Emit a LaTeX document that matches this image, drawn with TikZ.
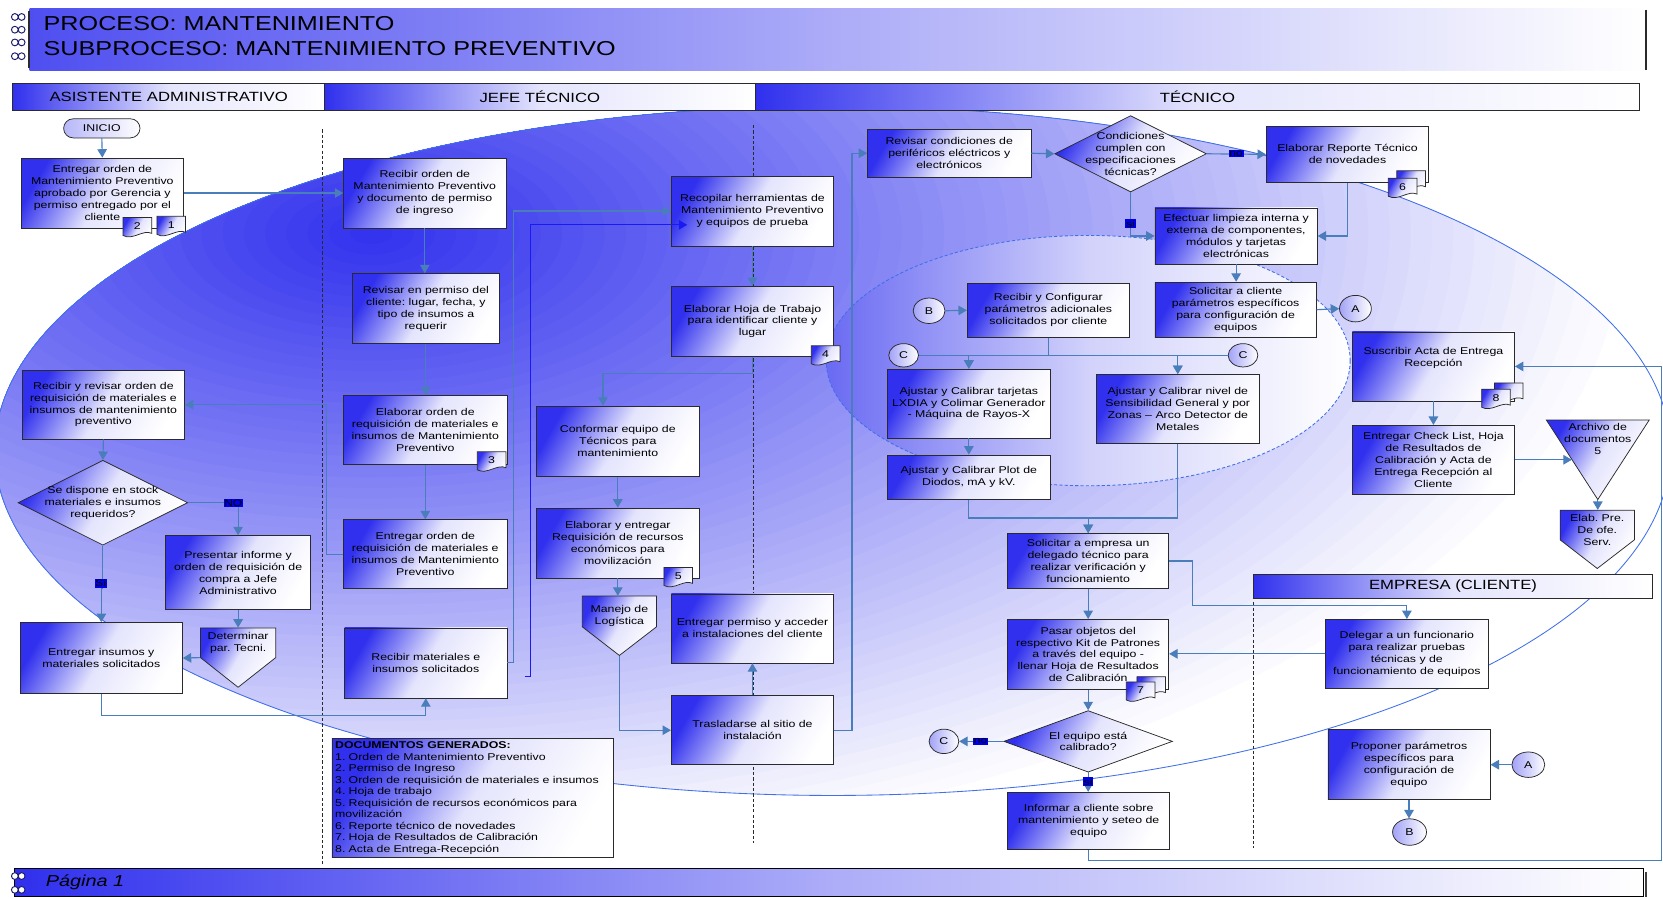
\documentclass[tikz,border=0pt]{standalone}
\usepackage{fontspec}
\setmainfont{Liberation Sans}[FakeStretch=1.25]
\usetikzlibrary{arrows.meta,shapes.geometric,calc}

\definecolor{bxblue}{HTML}{3030EE}
\definecolor{bxmid}{HTML}{E4E4FD}
\definecolor{lnk}{HTML}{4A7EBB}
\definecolor{elln}{HTML}{3F6FEA}
\definecolor{lblblue}{HTML}{0000E6}
\definecolor{edge}{HTML}{2A2A2A}
\definecolor{ringc}{HTML}{1C1C6E}
\definecolor{wire}{HTML}{1A1AF5}

\newcommand\bodyfont{\fontsize{9.3}{11.2}\selectfont\frenchspacing}

\tikzset{
  every node/.style={font=\bodyfont},
  proc/.style={rectangle, draw=edge, line width=0.7pt, align=center, inner sep=1pt,
    top color=bxblue, bottom color=white, middle color=bxmid, shading angle=60},
  term/.style={rectangle, rounded corners=9pt, draw=edge, line width=0.7pt, inner sep=1pt,
    left color=bxblue!35!white, right color=white},
  ghost/.style={rectangle, draw=none, inner sep=0pt},
  txt/.style={align=center, inner sep=0pt},
  decis/.style={diamond, draw=edge, line width=0.7pt, inner sep=0pt,
    top color=bxblue, bottom color=white, middle color=bxmid, shading angle=60},
  shapefill/.style={draw=edge, line width=0.7pt,
    top color=bxblue, bottom color=white, middle color=bxmid, shading angle=60},
  conn/.style={draw=lnk, line width=1.1pt, -{Triangle[width=9pt,length=8pt]}},
  yesno/.style={fill=lblblue, inner sep=0.8pt, font=\fontsize{9}{10}\selectfont},
  jump/.style={ellipse, draw=edge, line width=0.7pt, inner sep=0pt,
    left color=bxblue!45!white, right color=white},
  lanehead/.style={rectangle, draw=edge, line width=0.7pt, inner sep=0pt,
    left color=bxblue, right color=white, middle color=bxmid,
    font=\fontsize{12.6}{14}\selectfont},
  lanesep/.style={draw=edge, dash pattern=on 3pt off 2pt, line width=0.7pt},
  docm/.pic={\path[shapefill] (0,0) -- (27,0) -- (27,15) .. controls (19,11) and (9,22) .. (0,17) -- cycle;
             \node[inner sep=0pt] (-n) at (13.5,8) {#1};},
  ring/.pic={\draw[ringc, line width=0.9pt, fill=white] (0,0) circle[radius=3.2] (6.4,0) circle[radius=3.2];}
}

\begin{document}
\begin{tikzpicture}[x=1pt,y=-1pt]
\useasboundingbox (0,0) rectangle (1568,847);
\fill[white] (0,0) rectangle (1568,847);

% large background ellipse, deepest blue towards its upper left part
\begin{scope}
  \clip (785,425) ellipse [x radius=790, y radius=325];
  \fill[white] (0,0) rectangle (1568,847);
  \foreach \i [evaluate=\i as \s using 1-\i/60, evaluate=\i as \pc using 100*\i/60] in {0,...,59}
    \fill[bxblue!\pc!white] (350,220) ellipse [x radius={1200*\s}, y radius={600*\s}];
\end{scope}
\draw[elln, line width=0.8pt] (785,425) ellipse [x radius=790, y radius=325];
% inner calibration ellipse
\shadedraw[draw=elln, line width=0.8pt, dash pattern=on 3pt off 2pt, left color=bxblue!72,
  right color=white, middle color=bxblue!22!white] (1026,340) ellipse [x radius=247, y radius=118];

% lane separators
\draw[lanesep] (304,122) -- (304,815);
\draw[lanesep] (710,118) -- (710,795);
\draw[lanesep] (1182,568) -- (1182,800);

% title band
\node[ghost, minimum width=1524, minimum height=58, left color=bxblue!85, right color=white,
  middle color=bxblue!40!white] (HB) at (790,37) {};
\draw[edge, line width=1.2pt] (1552,9) -- (1552,66);
\draw[edge, line width=1.6pt] (27.5,10) -- (27.5,64);
\foreach \yy in {16,28,40,53} \pic at (14,\yy) {ring};
\node[anchor=west, inner sep=0pt, font=\fontsize{19}{21}\selectfont] (H1) at (41,22.5) {PROCESO: MANTENIMIENTO};
\node[anchor=west, inner sep=0pt, font=\fontsize{19}{21}\selectfont] (H2) at (41,45.5) {SUBPROCESO: MANTENIMIENTO PREVENTIVO};

% lane headers
\node[lanehead, minimum width=294, minimum height=25] (L1) at (159,91.5) {ASISTENTE ADMINISTRATIVO};
\node[lanehead, minimum width=406, minimum height=25] (L2) at (509,91.5) {JEFE TÉCNICO};
\node[lanehead, minimum width=834, minimum height=25] (L3) at (1129,91.5) {TÉCNICO};
\node[lanehead, minimum width=376, minimum height=22] (L4) at (1370,553) {EMPRESA (CLIENTE)};

% footer
\node[rectangle, draw=black, line width=1pt, minimum width=1536, minimum height=26,
  left color=bxblue, right color=white, middle color=bxblue!40!white] (FT) at (782,832) {};
\draw[black!75, line width=2pt] (1552,822) -- (1552,846);
\foreach \yy in {826,839} \pic at (14,\yy) {ring};
\node[anchor=west, inner sep=0pt, font=\fontsize{15}{17}\selectfont\itshape] (FTt) at (43,831.5) {Página 1};

% ---------- Asistente administrativo ----------
\node[term, minimum width=72, minimum height=18] (A0) at (96,121) {INICIO};
\node[proc, minimum width=153, minimum height=66] (A1) at (96.5,182)
  {Entregar orden de\\Mantenimiento Preventivo\\aprobado por Gerencia y\\permiso entregado por el\\cliente};
\pic (d2) at (116,205) {docm=2};
\pic (d1) at (148,204) {docm=1};
\node[proc, minimum width=153, minimum height=65] (A2) at (97.5,381.5)
  {Recibir y revisar orden de\\requisición de materiales e\\insumos de mantenimiento\\preventivo};
\node[decis, minimum width=160, minimum height=80] (A3) at (97,474) {};
\node[txt] (A3t) at (97,474) {Se dispone en stock\\materiales e insumos\\requeridos?};
\node[proc, minimum width=137, minimum height=70] (A4) at (224.5,540)
  {Presentar informe y\\orden de requisición de\\compra a Jefe\\Administrativo};
\path[shapefill] (189,592) -- (260,592) -- (260,620) -- (224.5,648) -- (189,620) -- cycle;
\node[ghost, minimum width=71, minimum height=56] (A5) at (224.5,620) {};
\node[txt] (A5t) at (224.5,606) {Determinar\\par. Tecni.};
\node[proc, minimum width=153, minimum height=67] (A6) at (95.5,620.5)
  {Entregar insumos y\\materiales solicitados};

% ---------- Jefe tecnico ----------
\node[proc, minimum width=153, minimum height=66] (J1) at (400.5,182)
  {Recibir  orden de\\Mantenimiento Preventivo\\y documento de permiso\\de ingreso};
\node[proc, minimum width=139, minimum height=66] (J2) at (401.5,291)
  {Revisar en permiso  del\\cliente: lugar, fecha, y\\tipo de insumos a\\requerir};
\node[proc, minimum width=154, minimum height=65] (J3) at (401,405.5)
  {Elaborar orden de\\requisición de materiales e\\insumos de Mantenimiento\\Preventivo};
\pic (d3) at (450,426) {docm=3};
\node[proc, minimum width=154, minimum height=65] (J4) at (401,522.5)
  {Entregar orden de\\requisición de materiales e\\insumos de Mantenimiento\\Preventivo};
\node[proc, minimum width=153, minimum height=66] (J5) at (401.5,625)
  {Recibir materiales e\\insumos solicitados};

\node[proc, minimum width=153, minimum height=66] (R1) at (709.5,199)
  {Recopilar herramientas de\\Mantenimiento Preventivo\\y equipos de prueba};
\node[proc, minimum width=153, minimum height=66] (R2) at (709.5,303)
  {Elaborar Hoja de Trabajo\\para identificar cliente y\\lugar};
\pic (d4) at (765,326) {docm=4};
\node[proc, minimum width=153, minimum height=66] (R3) at (582.5,416)
  {Conformar equipo de\\Técnicos para\\mantenimiento};
\node[proc, minimum width=153, minimum height=66] (R4) at (582.5,512)
  {Elaborar y entregar\\Requisición de recursos\\económicos para\\movilización};
\pic (d5) at (626,535) {docm=5};
\path[shapefill] (549,562) -- (619,562) -- (619,591) -- (584,618) -- (549,591) -- cycle;
\node[ghost, minimum width=70, minimum height=56] (R5) at (584,590) {};
\node[txt] (R5t) at (584,581) {Manejo de\\Logística};
\node[proc, minimum width=153, minimum height=65] (R6) at (709.5,592.5)
  {Entregar permiso y acceder\\a instalaciones del cliente};
\node[proc, minimum width=153, minimum height=65] (R7) at (709.5,688.5)
  {Trasladarse al sitio de\\instalación};

\node[proc, align=left, text width=259, inner sep=3pt, minimum height=111,
  font=\fontsize{9.3}{10.9}\selectfont\frenchspacing] (DG) at (445.5,752.5)
  {\textbf{DOCUMENTOS GENERADOS:}\\
   1. Orden de Mantenimiento Preventivo\\
   2. Permiso de Ingreso\\
   3. Orden de requisición de materiales e insumos\\
   4. Hoja de trabajo\\
   5. Requisición de recursos económicos para\\
   movilización\\
   6. Reporte técnico de novedades\\
   7. Hoja de Resultados de Calibración\\
   8. Acta de Entrega-Recepción};

% ---------- Tecnico ----------
\node[proc, minimum width=154, minimum height=45] (T1) at (895,144.5)
  {Revisar condiciones de\\periféricos eléctricos y\\electrónicos};
\node[decis, minimum width=143, minimum height=72] (D1) at (1066,145) {};
\node[txt] (D1t) at (1066,145) {Condiciones\\cumplen con\\especificaciones\\técnicas?};
\node[proc, minimum width=153, minimum height=53] (T2) at (1270.5,145.5)
  {Elaborar Reporte  Técnico\\de novedades};
\pic (d6b) at (1317,161) {docm={}};
\pic (d6) at (1309,168) {docm=6};
\node[proc, minimum width=153, minimum height=53] (T3) at (1165.5,222.5)
  {Efectuar limpieza interna y\\externa de componentes,\\módulos y tarjetas\\electrónicas};
\node[proc, minimum width=152, minimum height=52] (T4) at (1165,292)
  {Solicitar a cliente\\parámetros específicos\\para configuración de\\equipos};
\node[jump, minimum width=30, minimum height=25] (CA1) at (1278,291) {A};
\node[jump, minimum width=30, minimum height=24] (CB1) at (876,293) {B};
\node[proc, minimum width=153, minimum height=51] (T5) at (988.5,292.5)
  {Recibir y Configurar\\parámetros adicionales\\solicitados por cliente};
\node[jump, minimum width=28, minimum height=22] (CC1) at (852,335) {C};
\node[jump, minimum width=28, minimum height=22] (CC2) at (1172,335) {C};
\node[proc, minimum width=153, minimum height=65] (T6) at (913.5,380.5)
  {Ajustar y Calibrar tarjetas\\LXDIA y Colimar Generador\\- Máquina de Rayos-X};
\node[proc, minimum width=153, minimum height=65] (T7) at (1110.5,385.5)
  {Ajustar y Calibrar nivel de\\Sensibilidad General y por\\Zonas – Arco Detector de\\Metales};
\node[proc, minimum width=153, minimum height=42] (T8) at (913.5,450)
  {Ajustar y Calibrar  Plot de\\Diodos, mA y kV.};
\node[proc, minimum width=152, minimum height=52] (T9) at (1026,529)
  {Solicitar a empresa un\\delegado técnico para\\realizar verificación y\\funcionamiento};
\node[proc, minimum width=152, minimum height=66] (T10) at (1026,617)
  {Pasar objetos del\\respectivo Kit de Patrones\\a través del equipo -\\llenar Hoja de Resultados\\de Calibración};
\pic (d7b) at (1072,638) {docm={}};
\pic (d7) at (1062,643) {docm=7};
\node[decis, minimum width=159, minimum height=58] (D2) at (1026,699) {};
\node[txt] (D2t) at (1026,699) {El equipo está\\calibrado?};
\node[jump, minimum width=28, minimum height=23] (CC3) at (890,699) {C};
\node[proc, minimum width=153, minimum height=54] (T11) at (1026.5,774)
  {Informar a cliente sobre\\mantenimiento y seteo de\\equipo};
\node[proc, minimum width=153, minimum height=65] (T12) at (1351.5,345.5)
  {Suscribir Acta de Entrega\\Recepción\\[6pt]};
\pic (d8b) at (1409,361) {docm={}};
\pic (d8) at (1397,367) {docm=8};
\node[proc, minimum width=153, minimum height=65] (T13) at (1351.5,433.5)
  {Entregar Check List, Hoja\\de Resultados de\\Calibración y Acta de\\Entrega Recepción al\\Cliente};
\path[shapefill] (1458,396) -- (1555,396) -- (1506.5,471) -- cycle;
\node[ghost, minimum width=97, minimum height=75] (TRI) at (1506.5,433.5) {};
\node[txt] (TRIt) at (1506.5,414) {Archivo de\\documentos\\5};
\coordinate (triL) at (1482,433.5);
\path[shapefill] (1471,481) -- (1541,481) -- (1541,509) -- (1506,536) -- (1471,509) -- cycle;
\node[ghost, minimum width=70, minimum height=55] (PEN2) at (1506,508.5) {};
\node[txt] (PEN2t) at (1506,500) {Elab. Pre.\\De ofe.\\Serv.};

% ---------- Empresa (cliente) ----------
\node[proc, minimum width=153, minimum height=65] (E1) at (1326.5,616.5)
  {Delegar a un funcionario\\para realizar pruebas\\técnicas y de\\funcionamiento de equipos};
\node[proc, minimum width=153, minimum height=66] (E2) at (1328.5,721)
  {Proponer parámetros\\específicos para\\configuración de\\equipo};
\node[jump, minimum width=31, minimum height=24] (CA2) at (1441,721) {A};
\node[jump, minimum width=32, minimum height=25] (CB2) at (1329,784.5) {B};

% ---------- connectors ----------
\draw[conn] (A0.south) -- (A1.north);
\draw[conn] (A1.east) -- (J1.west);
\draw[conn] (A2.south) -- (A3.north);
\draw[conn] (A3.east) -| (A4.north);
\draw[conn] (A3.south) -- ++(0,40) -| (A6.north);
\draw[conn] (A4.south) -- (A5.north);
\draw[conn] (A5.west) -- (A6.east);
\draw[conn] (A6.south) -- ++(0,20) -| (J5.south);

\draw[conn] (J1.south) -- (J1.south |- J2.north);
\draw[conn] (J2.south) -- (J2.south |- J3.north);
\draw[conn] (J3.south) -- (J4.north);
\draw[conn] (J4.west) -- ++(-16,0) |- (A2.east);
\draw[conn] (J5.east) -- ++(6,0) |- (R1.west);
\coordinate (w1) at (495,638);
\coordinate (w2) at (648,212);
\draw[draw=wire, line width=1.2pt, -{Triangle[width=9pt,length=8pt]}] (w1) -- ++(5,0) |- (w2);

\draw[conn] (R1.south) -- (R2.north);
\draw[conn] (R2.south) -- ++(0,16) -| ([xshift=-14pt]R3.north);
\draw[conn] (R3.south) -- (R4.north);
\draw[conn] (R4.south) -- (R4.south |- R5.north);
\draw[conn] (R5.south) |- (R7.west);
\draw[conn] (R7.north) -- (R6.south);
\draw[conn] (R7.east) -- ++(17,0) |- (T1.west);

\draw[conn] (T1.east) -- (D1.west);
\draw[conn] (D1.east) -- (T2.west);
\draw[conn] (D1.south) |- (T3.west);
\draw[conn] (T2.south) |- (T3.east);
\draw[conn] (T3.south) -- (T3.south |- T4.north);
\draw[conn] (T4.east) -- (CA1.west);
\draw[conn] (CB1.east) -- (T5.west);
\draw[conn] (T5.south) -- ++(0,17) -| (T6.north);
\draw[conn] (T5.south) -- ++(0,17) -| (T7.north);
\draw[conn] (CC1.east) -| (T6.north);
\draw[conn] (CC2.west) -| (T7.north);
\draw[conn] (T6.south) -- (T8.north);
\draw[conn] (T8.south) -- ++(0,17) -| (T9.north);
\draw[conn] (T7.south) -- ++(0,70) -| (T9.north);
\draw[conn] (T9.south) -- (T10.north);
\draw[conn] (T9.east) -- ++(22,0) |- ($(E1.north)+(0,-13)$) -- (E1.north);
\draw[conn] (E1.west) -- (E1.west -| T10.east);
\draw[conn] (T10.south) -- (D2.north);
\draw[conn] (D2.west) -- (CC3.east);
\draw[conn] (D2.south) -- (D2.south |- T11.north);
\draw[conn] (T11.south) -- ++(0,10) -- ++(540,0) |- (T12.east);
\draw[conn] (T12.south) -- (T13.north);
\draw[conn] (T13.east) -- (triL);
\draw[conn] (TRI.south) -- (TRI.south |- PEN2.north);
\draw[conn] (CA2.west) -- (E2.east);
\draw[conn] (E2.south) -- (E2.south |- CB2.north);

% decision labels
\node[yesno] (lNO) at (220,474) {NO};
\node[yesno] (lSI) at (95,550) {Si};
\node[yesno] (lno1) at (1165.5,145) {no};
\node[yesno] (lsi1) at (1066,211) {si};
\node[yesno] (lno2) at (924.5,699) {no};
\node[yesno] (lsi2) at (1026,737) {si};
\end{tikzpicture}
\end{document}
